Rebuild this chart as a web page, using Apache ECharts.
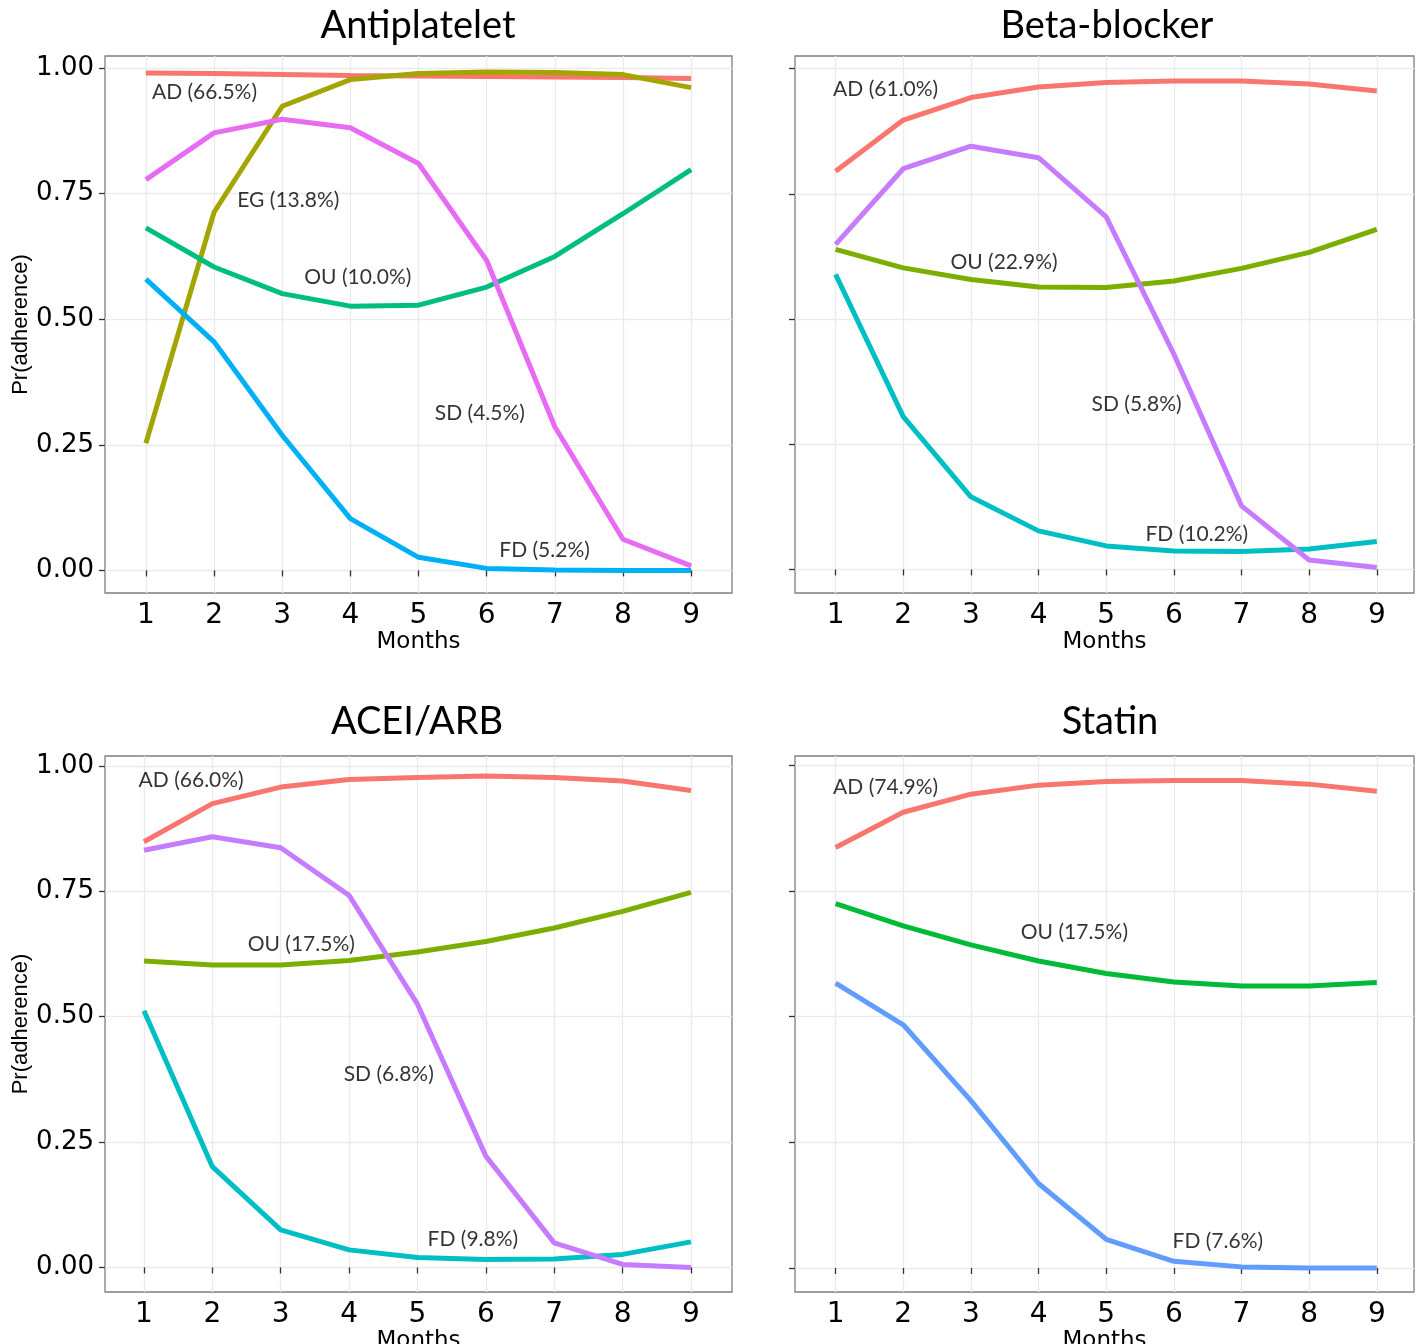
<!DOCTYPE html>
<html><head><meta charset="utf-8">
<script src="https://cdn.jsdelivr.net/npm/echarts@6/dist/echarts.min.js"></script>
<style>html,body{margin:0;padding:0;background:#fff}#c{width:1419px;height:1344px}</style>
</head><body><div id="c"></div>
<script>
// ---------- data ----------
const months = [1, 2, 3, 4, 5, 6, 7, 8, 9];
const yTicks = [0, 0.25, 0.5, 0.75, 1];
const panelTitles = ['Antiplatelet', 'Beta-blocker', 'ACEI/ARB', 'Statin'];

// Antiplatelet
const apAD = [0.990, 0.989, 0.987, 0.985, 0.984, 0.983, 0.982, 0.981, 0.979];
const apEG = [0.253, 0.713, 0.924, 0.977, 0.989, 0.992, 0.991, 0.987, 0.961];
const apOU = [0.682, 0.604, 0.551, 0.526, 0.528, 0.564, 0.625, 0.710, 0.798];
const apFD = [0.580, 0.455, 0.269, 0.103, 0.026, 0.004, 0.001, 0.000, 0.000];
const apSD = [0.778, 0.871, 0.898, 0.881, 0.810, 0.617, 0.286, 0.062, 0.009];
const apLabels = ['AD (66.5%)', 'EG (13.8%)', 'OU (10.0%)', 'SD (4.5%)', 'FD (5.2%)'];
const apLabelX = [1.86, 3.09, 4.11, 5.90, 6.85];
const apLabelY = [0.952, 0.737, 0.584, 0.313, 0.040];

// Beta-blocker
const bbAD = [0.795, 0.897, 0.942, 0.963, 0.972, 0.975, 0.975, 0.969, 0.955];
const bbOU = [0.639, 0.602, 0.579, 0.564, 0.563, 0.576, 0.601, 0.633, 0.679];
const bbFD = [0.589, 0.305, 0.145, 0.077, 0.047, 0.037, 0.036, 0.041, 0.056];
const bbSD = [0.649, 0.800, 0.845, 0.822, 0.704, 0.430, 0.127, 0.019, 0.004];
const bbLabels = ['AD (61.0%)', 'OU (22.9%)', 'SD (5.8%)', 'FD (10.2%)'];
const bbLabelX = [1.74, 3.49, 5.45, 6.34];
const bbLabelY = [0.958, 0.614, 0.330, 0.071];

// ACEI/ARB
const acAD = [0.849, 0.925, 0.958, 0.973, 0.977, 0.980, 0.977, 0.970, 0.951];
const acOU = [0.611, 0.603, 0.603, 0.612, 0.629, 0.650, 0.677, 0.710, 0.748];
const acFD = [0.512, 0.201, 0.075, 0.035, 0.020, 0.016, 0.017, 0.026, 0.051];
const acSD = [0.832, 0.859, 0.837, 0.742, 0.525, 0.222, 0.049, 0.006, 0.000];
const acLabels = ['AD (66.0%)', 'OU (17.5%)', 'SD (6.8%)', 'FD (9.8%)'];
const acLabelX = [1.69, 3.30, 4.58, 5.81];
const acLabelY = [0.971, 0.645, 0.386, 0.057];

// Statin
const stAD = [0.837, 0.907, 0.943, 0.961, 0.968, 0.970, 0.970, 0.963, 0.949];
const stOU = [0.725, 0.681, 0.643, 0.611, 0.586, 0.569, 0.561, 0.561, 0.568];
const stFD = [0.567, 0.484, 0.333, 0.168, 0.057, 0.013, 0.002, 0.000, 0.000];
const stLabels = ['AD (74.9%)', 'OU (17.5%)', 'FD (7.6%)'];
const stLabelX = [1.74, 4.53, 6.65];
const stLabelY = [0.956, 0.668, 0.054];

// ---------- build ----------
const panels = [
  { grid: {left: 105, top: 56, width: 627, height: 537}, xr: [0.40, 9.60], yr: [-0.045, 1.024], showY: true,
    title: {x: 418, y: 26}, nameGap: 27,
    series: [[apAD, '#F8766D'], [apEG, '#A3A500'], [apOU, '#00BF7D'], [apFD, '#00B0F6'], [apSD, '#E76BF3']],
    labels: [apLabels, apLabelX, apLabelY] },
  { grid: {left: 795, top: 56, width: 619, height: 537}, xr: [0.40, 9.55], yr: [-0.047, 1.025], showY: false,
    title: {x: 1107, y: 26}, nameGap: 26,
    series: [[bbAD, '#F8766D'], [bbOU, '#7CAE00'], [bbFD, '#00BFC4'], [bbSD, '#C77CFF']],
    labels: [bbLabels, bbLabelX, bbLabelY] },
  { grid: {left: 105, top: 756, width: 627, height: 536}, xr: [0.43, 9.60], yr: [-0.049, 1.020], showY: true,
    title: {x: 417, y: 722}, nameGap: 30,
    series: [[acAD, '#F8766D'], [acOU, '#7CAE00'], [acFD, '#00BFC4'], [acSD, '#C77CFF']],
    labels: [acLabels, acLabelX, acLabelY] },
  { grid: {left: 795, top: 756, width: 619, height: 536}, xr: [0.40, 9.55], yr: [-0.048, 1.019], showY: false,
    title: {x: 1110, y: 722}, nameGap: 30,
    series: [[stAD, '#F8766D'], [stOU, '#00BA38'], [stFD, '#619CFF']],
    labels: [stLabels, stLabelX, stLabelY] }
];

const grid = [], xAxis = [], yAxis = [], series = [], graphic = [];
panels.forEach((p, i) => {
  grid.push(Object.assign({show: true, borderColor: '#7f7f7f', borderWidth: 1.3, backgroundColor: '#fff',
    containLabel: false, outerBoundsMode: 'none'}, p.grid));
  xAxis.push({
    type: 'value', gridIndex: i, min: p.xr[0], max: p.xr[1],
    axisLine: {show: false},
    axisTick: {show: true, customValues: months, length: 6, lineStyle: {color: '#333', width: 1.3}},
    axisLabel: {customValues: months, margin: 9, fontSize: 28, color: '#000', fontFamily: 'DejaVu Sans'},
    splitLine: {show: true, lineStyle: {color: '#ebebeb', width: 1.3}},
    name: 'Months', nameLocation: 'middle', nameGap: p.nameGap,
    nameTextStyle: {fontSize: 23, color: '#000', fontFamily: 'DejaVu Sans'}
  });
  yAxis.push({
    type: 'value', gridIndex: i, min: p.yr[0], max: p.yr[1],
    axisLine: {show: false},
    axisTick: {show: true, customValues: yTicks, length: 6, lineStyle: {color: '#333', width: 1.3}},
    axisLabel: {show: p.showY, customValues: yTicks, margin: 11, fontSize: 26, color: '#000',
      fontFamily: 'DejaVu Sans', formatter: v => Number(v).toFixed(2)},
    splitLine: {show: true, lineStyle: {color: '#ebebeb', width: 1.3}},
    name: p.showY ? 'Pr(adherence)' : '', nameLocation: 'middle', nameRotate: 90, nameGap: 72,
    nameTextStyle: {fontSize: 22, color: '#000', fontFamily: 'Liberation Sans'}
  });
  p.series.forEach(([vals, color]) => {
    series.push({
      type: 'line', xAxisIndex: i, yAxisIndex: i, symbol: 'none', silent: true,
      data: months.map((m, k) => [m, vals[k]]),
      lineStyle: {color: color, width: 5}, itemStyle: {color: color}
    });
  });
  const [txt, lx, ly] = p.labels;
  series.push({
    type: 'scatter', xAxisIndex: i, yAxisIndex: i, silent: true, symbolSize: 1, z: 5,
    itemStyle: {color: 'rgba(0,0,0,0)'},
    data: txt.map((t, k) => ({name: t, value: [lx[k], ly[k]]})),
    label: {show: true, position: 'inside', formatter: q => q.name, color: '#000',
      fontSize: 21, fontFamily: 'Lato'}
  });
  graphic.push({type: 'text', x: p.title.x, y: p.title.y, silent: true,
    style: {text: panelTitles[i], align: 'center', verticalAlign: 'middle',
      fontSize: 38, fontFamily: 'Lato', fill: '#000'}});
});

const chart = echarts.init(document.getElementById('c'), null, {renderer: 'canvas'});
chart.setOption({animation: false, backgroundColor: '#fff', grid, xAxis, yAxis, series, graphic});
</script>
</body></html>
